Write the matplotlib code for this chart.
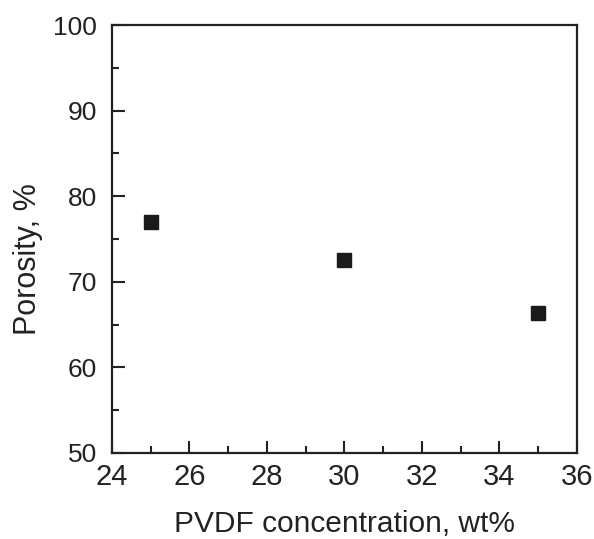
import matplotlib
matplotlib.use("Agg")
import matplotlib.pyplot as plt
from matplotlib.ticker import MultipleLocator

# data
pvdf_conc = [25, 30, 35]
porosity = [77.0, 72.5, 66.3]

plt.rcParams['font.family'] = ['Liberation Sans', 'DejaVu Sans']

fig = plt.figure(figsize=(5.94, 5.39), dpi=100)
ax = fig.add_axes([0.1886, 0.1596, 0.7824, 0.794])

ax.plot(pvdf_conc, porosity, linestyle='none', marker='s', markersize=10.5,
        color='#1a1a1a')

ax.set_xlim(24, 36)
ax.set_ylim(50, 100)
ax.xaxis.set_major_locator(MultipleLocator(2))
ax.xaxis.set_minor_locator(MultipleLocator(1))
ax.yaxis.set_major_locator(MultipleLocator(10))
ax.yaxis.set_minor_locator(MultipleLocator(5))

ax.tick_params(which='both', direction='in', top=False, right=False,
               width=1.5, color='#222222', labelcolor='#222222')
ax.tick_params(which='major', length=9)
ax.tick_params(axis='x', which='major', pad=7, labelsize=21)
ax.tick_params(axis='y', which='major', pad=11, labelsize=19)
ax.tick_params(which='minor', length=5)

for sp in ax.spines.values():
    sp.set_linewidth(1.6)
    sp.set_color('#222222')

ax.set_xlabel('PVDF concentration, wt%', fontsize=21.5, color='#222222')
ax.set_ylabel('Porosity, %', fontsize=22, color='#222222')
ax.xaxis.set_label_coords(0.5, -0.134)
ax.yaxis.set_label_coords(-0.148, 0.453)

fig.savefig('out.png', dpi=100)
